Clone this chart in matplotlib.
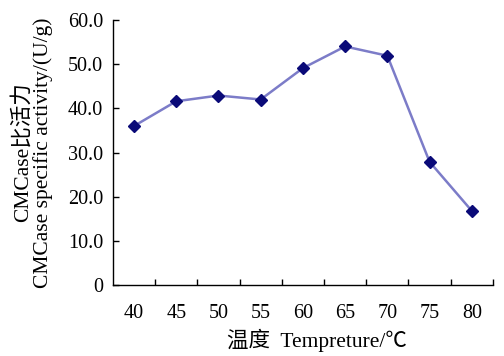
import matplotlib
matplotlib.use("Agg")
import matplotlib.pyplot as plt
import numpy as np

categories = ["40", "45", "50", "55", "60", "65", "70", "75", "80"]
activity = [36.0, 41.6, 42.9, 42.0, 49.1, 54.0, 51.9, 27.9, 16.8]
yticks = [0, 10, 20, 30, 40, 50, 60]
ytick_labels = ["0", "10.0", "20.0", "30.0", "40.0", "50.0", "60.0"]

fam = ["Liberation Serif", "Noto Sans CJK SC"]
plt.rcParams["font.family"] = fam

fig = plt.figure(figsize=(5.04, 3.56), dpi=100)
ax = fig.add_axes([0.224, 0.199, 0.754, 0.745])

x = np.arange(len(categories))
ax.plot(x, activity, color="#7c7cc8", lw=1.8, zorder=2)
ax.plot(x, activity, ls="none", marker="D", ms=6.2, color="#0a0a78", zorder=3)

ax.set_xlim(-0.5, len(categories) - 0.5)
ax.set_ylim(0, 60)
ax.set_yticks(yticks)
ax.set_yticklabels(ytick_labels, fontsize=14.5)
ax.set_xticks(x)
ax.set_xticklabels(categories, fontsize=14.5)
ax.set_xticks(np.arange(len(categories)) + 0.5, minor=True)
ax.tick_params(axis="x", which="major", length=0, pad=13.5)
ax.tick_params(axis="x", which="minor", direction="in", length=4, width=1)
ax.tick_params(axis="y", direction="in", length=4, width=1, pad=7)

for s in ["top", "right"]:
    ax.spines[s].set_visible(False)
for s in ["left", "bottom"]:
    ax.spines[s].set_linewidth(1.0)
    ax.spines[s].set_color("black")

ax.set_xlabel("温度  Tempreture/℃", fontsize=15.5)
ax.xaxis.label.set_va("center")
ax.xaxis.set_label_coords(0.537, -0.2075)
ax.set_ylabel("CMCase比活力\nCMCase specific activity/(U/g)", fontsize=15.5,
              linespacing=1.0)
ax.yaxis.label.set_va("center")
ax.yaxis.set_label_coords(-0.212, 0.5)

fig.savefig("out.png", dpi=100)
